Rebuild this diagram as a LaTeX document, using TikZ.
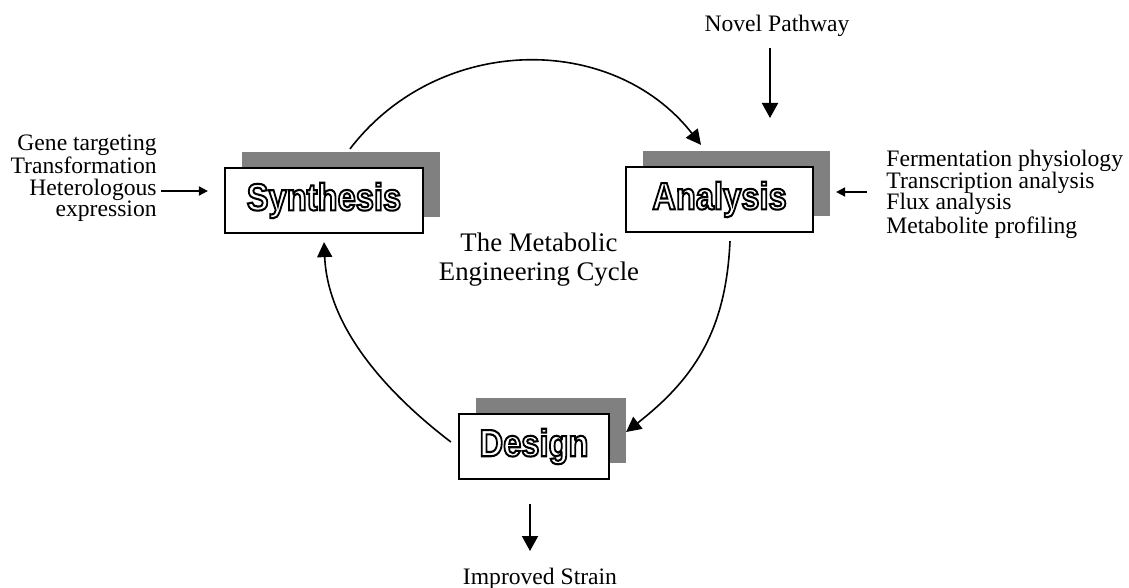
\documentclass[tikz,border=0pt]{standalone}
\usepackage{fontspec}
\usepackage{graphicx}
\setmainfont{Liberation Serif}
\newfontfamily\boxfont{Liberation Sans}[BoldFeatures={FakeBold=5.5}]
\usetikzlibrary{arrows.meta,shadows}
\definecolor{shadowgray}{RGB}{128,128,128}
% white letters, black stroke
\newcommand{\outlined}[1]{\scalebox{0.86}[1]{\special{pdf:bcolor [1] [0]}#1\special{pdf:ecolor}}}

\begin{document}
\begin{tikzpicture}[x=0.5pt,y=-0.5pt,
  stage/.style={draw,line width=1.1pt,fill=white,minimum height=32.5pt,inner sep=0pt,
    font=\boxfont\bfseries\fontsize{19}{19}\selectfont,
    drop shadow={shadow xshift=8.5pt,shadow yshift=8pt,fill=shadowgray,opacity=1}},
  notes/.style={font=\fontsize{11.8}{10.75}\selectfont,inner sep=0pt},
  loopline/.style={line width=0.8pt,-{Triangle[length=7.5pt,width=7.5pt]}},
  feed/.style={line width=1pt,-{Triangle[length=7.5pt,width=8pt]}},
  side/.style={line width=0.9pt,-{Triangle[length=4.5pt,width=4.5pt]}}]
  \useasboundingbox (0,0) rectangle (1129,588);

  % the three stages
  \node[stage,minimum width=99pt] (synth) at (324,200.5) {\outlined{Synthesis}};
  \node[stage,minimum width=93.5pt] (analysis) at (719.5,199.5) {\outlined{Analysis}};
  \node[stage,minimum width=75pt] (design) at (534,446.5) {\outlined{Design}};

  % texts
  \node[notes,align=right,anchor=north east] (genes) at (157,134)
    {Gene targeting\\Transformation\\Heterologous\\expression};
  \node[notes,align=left,anchor=north west] (measure) at (886,150)
    {Fermentation physiology\\Transcription analysis\\Flux analysis\\Metabolite profiling};
  \node[notes,font=\fontsize{13.4}{14.5}\selectfont,align=center,anchor=north] (title) at (539,233)
    {The Metabolic\\Engineering Cycle};
  \node[notes,anchor=base] (novel) at (777,32) {Novel Pathway};
  \node[notes,anchor=base] (strain) at (540,584) {Improved Strain};

  \coordinate (novtip) at (770,118);
  \coordinate (outtop) at (530,504);
  \coordinate (outtip) at (530,551);
  \coordinate (leftin) at (161,191);
  \coordinate (rightin) at (867,192);

  % the cycle
  \draw[loopline] ([xshift=13pt,yshift=9pt]synth.north) .. controls (438,34) and (612,31.5) .. ([xshift=-9.25pt,yshift=10.5pt]analysis.north);
  \draw[loopline] ([xshift=5.25pt,yshift=-4pt]analysis.south) .. controls (726,330) and (695,378) .. ([xshift=8pt,yshift=7.25pt]design.east);
  \draw[loopline] ([xshift=-3.5pt,yshift=2.25pt]design.west) .. controls (392,397) and (328,331) .. ([yshift=-4pt]synth.south);

  % in and out
  \draw[feed] ([xshift=-3.5pt,yshift=-5.5pt]novel.south) -- (novtip);
  \draw[feed] (outtop) -- (outtip);
  \draw[side,shorten >=8pt] (leftin) -- (leftin -| synth.west);
  \draw[side,shorten >=11pt] (rightin) -- (rightin -| analysis.east);
\end{tikzpicture}
\end{document}
